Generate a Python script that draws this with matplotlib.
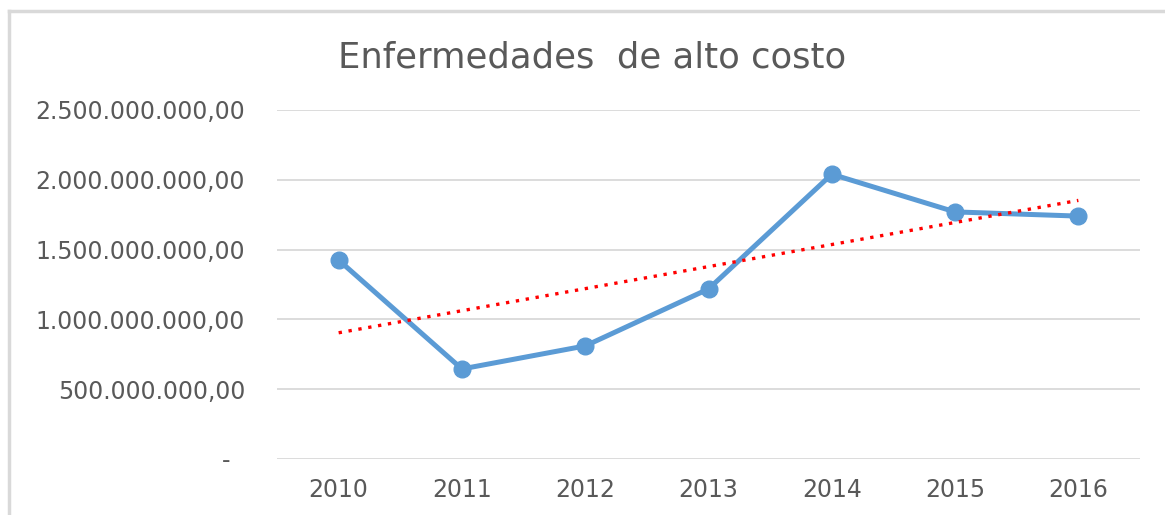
import numpy as np
import matplotlib
matplotlib.use("Agg")
import matplotlib.pyplot as plt
import matplotlib.ticker as tk
from matplotlib.lines import Line2D

# data
years = ["2010", "2011", "2012", "2013", "2014", "2015", "2016"]
costs = [1.425e9, 0.645e9, 0.81e9, 1.218e9, 2.04e9, 1.77e9, 1.74e9]
y_ticks = [0, 0.5e9, 1.0e9, 1.5e9, 2.0e9, 2.5e9]

TEXT = "#595959"
BLUE = "#5B9BD5"
GRID = "#D9D9D9"


def spanish_fmt(v, pos):
    # excel accounting style: thousands with '.', decimals with ','
    if v == 0:
        return "-  "
    s = f"{v:,.2f}"
    return s.replace(",", "X").replace(".", ",").replace("X", ".")


fig = plt.figure(figsize=(11.65, 5.15), dpi=100)
ax = fig.add_axes([277 / 1165, 1 - 459 / 515, (1140 - 277) / 1165, (459 - 110) / 515])

x = np.arange(len(years))
ax.plot(x, costs, color=BLUE, linewidth=3.6, marker="o", markersize=12,
        solid_capstyle="round", zorder=3)

# linear trend line
slope, icpt = np.polyfit(x, costs, 1)
ax.plot(x, slope * x + icpt, color="#FF0000", linewidth=2.4,
        linestyle=(0, (1, 2.0)), zorder=4)

ax.set_xlim(-0.5, len(years) - 0.5)
ax.set_ylim(0, 2.5e9)
ax.set_yticks(y_ticks)
ax.yaxis.set_major_formatter(tk.FuncFormatter(spanish_fmt))
ax.set_xticks(x)
ax.set_xticklabels(years)

ax.grid(axis="y", color=GRID, linewidth=1.3)
ax.set_axisbelow(True)
for sp in ax.spines.values():
    sp.set_visible(False)
ax.tick_params(length=0, labelsize=17, labelcolor=TEXT)
ax.tick_params(axis="y", pad=23)
ax.tick_params(axis="x", pad=14)

fig.text(0.508, 0.889, "Enfermedades  de alto costo", ha="center", va="center",
         fontsize=25.5, color=TEXT)

# chart frame (cut off at right and bottom)
fig.add_artist(Line2D([8.5 / 1165, 8.5 / 1165], [0, 1 - 11 / 515], color=GRID, linewidth=2.5))
fig.add_artist(Line2D([8.5 / 1165, 1], [1 - 11 / 515, 1 - 11 / 515], color=GRID, linewidth=2.5))

fig.savefig("out.png", dpi=100)
